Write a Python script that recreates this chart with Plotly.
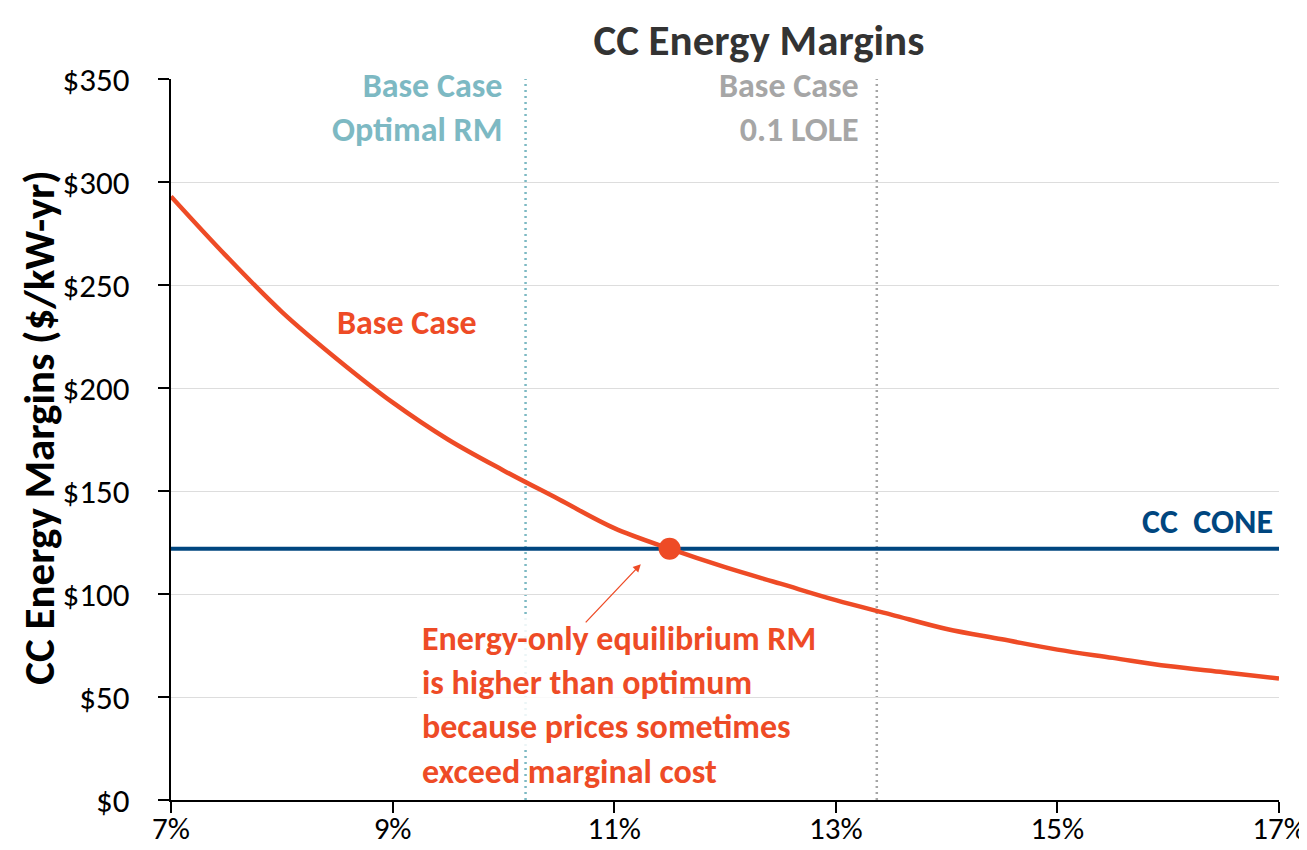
import plotly.graph_objects as go

# reserve margin (%) and CC energy margins ($/kW-yr)
reserve_margin = [7, 7.5, 8, 8.5, 9, 9.5, 10, 10.5, 11, 11.5, 12, 12.5,
                  13, 13.5, 14, 14.5, 15, 15.5, 16, 16.5, 17]
energy_margin = [293, 264, 237, 214, 193, 175, 160, 146, 132, 122, 113, 105,
                 97, 90, 83, 78, 73, 69, 65, 62, 59]

cc_cone = 122
equilibrium_rm = 11.5
optimal_rm = 10.2
lole_rm = 13.37

x_ticks = [7, 9, 11, 13, 15, 17]
y_ticks = [0, 50, 100, 150, 200, 250, 300, 350]

ORANGE = "#EE4B26"
BLUE = "#00467F"
TEAL = "#7DB9C3"
GREY = "#A6A6A6"
FONT = "Carlito, Lato, sans-serif"

fig = go.Figure()

fig.add_trace(go.Scatter(
    x=[x_ticks[0], x_ticks[-1]], y=[cc_cone, cc_cone],
    mode="lines", line=dict(color=BLUE, width=4), hoverinfo="skip",
))
fig.add_trace(go.Scatter(
    x=reserve_margin, y=energy_margin,
    mode="lines", line=dict(color=ORANGE, width=4.5, shape="spline"),
))
fig.add_trace(go.Scatter(
    x=[equilibrium_rm], y=[cc_cone],
    mode="markers", marker=dict(color=ORANGE, size=22),
))

# vertical reference lines
for xv, clr in [(optimal_rm, TEAL), (lole_rm, GREY)]:
    fig.add_shape(type="line", x0=xv, x1=xv, y0=0, y1=y_ticks[-1],
                  xref="x", yref="y", layer="below",
                  line=dict(color=clr, width=2.5, dash="2px,4px"))

# light box behind the note text
fig.add_shape(type="rect", x0=9.22, x1=11.62, y0=25, y1=89, xref="x", yref="y",
              layer="between", line_width=0, fillcolor="rgba(255,255,255,0.85)")

big = dict(family=FONT, size=34)
fig.add_annotation(x=optimal_rm, y=350, xref="x", yref="y", xshift=-22, yshift=16,
                   xanchor="right", yanchor="top", align="right", showarrow=False,
                   text="<b>Base Case<br>Optimal RM</b>",
                   font=dict(big, color=TEAL))
fig.add_annotation(x=lole_rm, y=350, xref="x", yref="y", xshift=-16, yshift=16,
                   xanchor="right", yanchor="top", align="right", showarrow=False,
                   text="<b>Base Case<br>0.1 LOLE</b>",
                   font=dict(big, color=GREY))
fig.add_annotation(x=8.48, y=232, xref="x", yref="y",
                   xanchor="left", yanchor="middle", showarrow=False,
                   text="<b>Base Case</b>", font=dict(big, color=ORANGE))
fig.add_annotation(x=17, y=135, xref="x", yref="y", xshift=-4,
                   xanchor="right", yanchor="middle", showarrow=False,
                   text="<b>CC  CONE</b>", font=dict(big, color=BLUE))
fig.add_annotation(x=9.25, y=46, xref="x", yref="y",
                   xanchor="left", yanchor="middle", align="left", showarrow=False,
                   text="<b>Energy-only equilibrium RM<br>is higher than optimum<br>"
                        "because prices sometimes<br>exceed marginal cost</b>",
                   font=dict(big, color=ORANGE))
fig.add_annotation(x=11.24, y=114.5, ax=10.73, ay=85.5,
                   xref="x", yref="y", axref="x", ayref="y",
                   text="", showarrow=True, arrowhead=2, arrowsize=1.2,
                   arrowwidth=1.3, arrowcolor=ORANGE)

# y-axis title placed as an annotation (it sits a little above the plot centre)
fig.add_annotation(x=-0.1185, y=0.516, xref="paper", yref="paper",
                   xanchor="center", yanchor="middle", textangle=-90, showarrow=False,
                   text="<b>CC Energy Margins ($/kW-yr)</b>",
                   font=dict(family=FONT, size=43, color="black"))

fig.update_layout(
    width=1307, height=850,
    margin=dict(l=163, r=36, t=71, b=58),
    paper_bgcolor="white", plot_bgcolor="white",
    showlegend=False,
    font=dict(family=FONT, color="black"),
    title=dict(text="<b>CC Energy Margins</b>", x=0.5745, xanchor="center",
               y=0.963, yanchor="middle",
               font=dict(family=FONT, size=43, color="#333333")),
    xaxis=dict(
        range=[7, 17], tickvals=x_ticks, ticktext=[f"{v}%" for v in x_ticks],
        showgrid=False, zeroline=False, automargin=False,
        showline=True, linecolor="black", linewidth=2,
        ticks="outside", ticklen=11, tickwidth=2, tickcolor="black",
        tickfont=dict(size=31), ticklabelstandoff=-11,
    ),
    yaxis=dict(
        range=[0, 350], tickvals=y_ticks, ticktext=[f"${v}" for v in y_ticks],
        showgrid=True, gridcolor="#DDDDDD", gridwidth=1, zeroline=False,
        automargin=False,
        showline=True, linecolor="black", linewidth=2,
        ticks="outside", ticklen=11, tickwidth=2, tickcolor="black",
        tickfont=dict(size=33), ticklabelstandoff=22,
    ),
)

fig.write_html("out.html")
